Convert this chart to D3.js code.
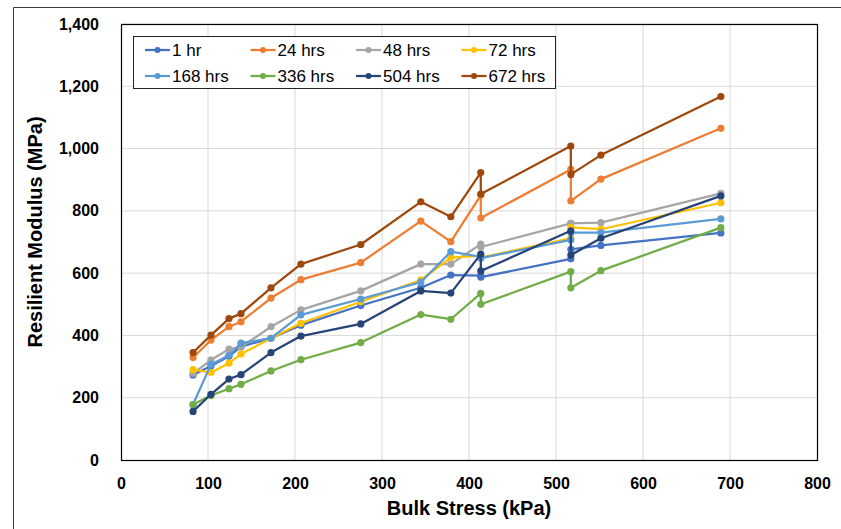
<!DOCTYPE html>
<html>
<head>
<meta charset="utf-8">
<script src="https://cdn.jsdelivr.net/npm/d3@7"></script>
<style>
  body { margin: 0; background: #fff; }
  svg { display: block; font-family: "Liberation Sans", Arial, sans-serif; }
</style>
</head>
<body>
<svg id="chart" width="841" height="529"></svg>
<script>
// ---- data ----
const bulkStress = [82.8, 103.4, 124.1, 137.9, 172.4, 206.8, 275.6, 344.6, 379.1, 413.5, 413.6, 517.0, 517.1, 551.6, 689.5];
const seriesNames = ["1 hr", "24 hrs", "48 hrs", "72 hrs", "168 hrs", "336 hrs", "504 hrs", "672 hrs"];
const hr1    = [273, 302, 333, 364, 391, 433, 496, 553, 594, 592, 587, 646, 676, 689, 729];
const hrs24  = [329, 385, 428, 444, 520, 579, 634, 767, 701, 850, 777, 933, 832, 902, 1065];
const hrs48  = [278, 321, 356, 362, 428, 482, 543, 629, 629, 693, 684, 760, 760, 762, 856];
const hrs72  = [290, 281, 311, 340, 391, 439, 508, 578, 650, 656, 650, 712, 747, 741, 826];
const hrs168 = [178, 307, 336, 375, 391, 466, 517, 571, 669, 652, 648, 707, 730, 730, 774];
const hrs336 = [178, 207, 229, 243, 286, 322, 377, 467, 452, 535, 500, 605, 553, 608, 746];
const hrs504 = [156, 211, 260, 274, 345, 398, 437, 543, 536, 661, 607, 736, 658, 712, 848];
const hrs672 = [345, 401, 454, 470, 553, 629, 692, 829, 781, 923, 854, 1008, 917, 979, 1167];
const seriesColors = ["#4472C4", "#ED7D31", "#A5A5A5", "#FFC000", "#5B9BD5", "#70AD47", "#264478", "#9E480E"];
const xTicks = [0, 100, 200, 300, 400, 500, 600, 700, 800];
const yTicks = [0, 200, 400, 600, 800, 1000, 1200, 1400];
const xTitle = "Bulk Stress (kPa)";
const yTitle = "Resilient Modulus (MPa)";

const seriesValues = [hr1, hrs24, hrs48, hrs72, hrs168, hrs336, hrs504, hrs672];
const series = seriesNames.map((name, i) => ({
  name, color: seriesColors[i],
  points: bulkStress.map((x, j) => ({ x, y: seriesValues[i][j] }))
}));

// ---- layout ----
const svg = d3.select("#chart");
const plot = { left: 121, right: 817, top: 24, bottom: 460 };
const x = d3.scaleLinear().domain([0, 800]).range([plot.left, plot.right]);
const y = d3.scaleLinear().domain([0, 1400]).range([plot.bottom, plot.top]);

svg.append("rect").attr("width", 841).attr("height", 529).attr("fill", "#fff");
// chart-area frame
svg.append("path").attr("d", "M13.5,535 V7.5 H845").attr("fill", "none").attr("stroke", "#3a3a3a").attr("stroke-width", 1);

// gridlines
svg.append("g").selectAll("line.h").data(yTicks.slice(1)).join("line")
  .attr("x1", plot.left).attr("x2", plot.right)
  .attr("y1", d => y(d)).attr("y2", d => y(d))
  .attr("stroke", "#d9d9d9").attr("stroke-width", 1);
svg.append("g").selectAll("line.v").data(xTicks.slice(1, -1)).join("line")
  .attr("y1", plot.top).attr("y2", plot.bottom)
  .attr("x1", d => x(d)).attr("x2", d => x(d))
  .attr("stroke", "#d9d9d9").attr("stroke-width", 1);

// axes labels
const xAxis = svg.append("g").attr("transform", `translate(0,${plot.bottom})`)
  .call(d3.axisBottom(x).tickValues(xTicks).tickSize(0).tickPadding(18).tickFormat(d3.format("d")));
const yAxis = svg.append("g").attr("transform", `translate(${plot.left},0)`)
  .call(d3.axisLeft(y).tickValues(yTicks).tickSize(0).tickPadding(22).tickFormat(d3.format(",")));
[xAxis, yAxis].forEach(a => {
  a.select(".domain").remove();
  a.selectAll("text").attr("font-size", 16).attr("font-weight", "bold").attr("fill", "#000")
    .attr("font-family", "Liberation Sans, Arial, sans-serif");
});

// plot border
svg.append("rect").attr("x", plot.left + 0.5).attr("y", plot.top + 0.5)
  .attr("width", plot.right - plot.left).attr("height", plot.bottom - plot.top)
  .attr("fill", "none").attr("stroke", "#000").attr("stroke-width", 1.2);

// series
const line = d3.line().x(d => x(d.x)).y(d => y(d.y));
const gS = svg.append("g");
series.forEach(s => {
  const g = gS.append("g");
  g.append("path").datum(s.points).attr("d", line)
    .attr("fill", "none").attr("stroke", s.color).attr("stroke-width", 2.25).attr("stroke-linejoin", "round");
  g.selectAll("circle").data(s.points).join("circle")
    .attr("cx", d => x(d.x)).attr("cy", d => y(d.y)).attr("r", 3.6).attr("fill", s.color);
});

// titles
svg.append("text").attr("x", (plot.left + plot.right) / 2).attr("y", 515)
  .attr("text-anchor", "middle").attr("font-size", 20).attr("font-weight", "bold").text(xTitle);
svg.append("text").attr("transform", `translate(42,${232}) rotate(-90)`)
  .attr("text-anchor", "middle").attr("font-size", 20).attr("font-weight", "bold").text(yTitle);

// legend
const leg = svg.append("g");
leg.append("rect").attr("x", 133.5).attr("y", 36.5).attr("width", 422).attr("height", 52)
  .attr("fill", "#fff").attr("stroke", "#222").attr("stroke-width", 1);
series.forEach((s, i) => {
  const col = i % 4, row = Math.floor(i / 4);
  const lx = 145 + col * 105.5, ly = 50 + row * 26;
  const g = leg.append("g");
  g.append("line").attr("x1", lx).attr("x2", lx + 25).attr("y1", ly).attr("y2", ly)
    .attr("stroke", s.color).attr("stroke-width", 2.25);
  g.append("circle").attr("cx", lx + 12.5).attr("cy", ly).attr("r", 3).attr("fill", s.color);
  g.append("text").attr("x", lx + 27).attr("y", ly).attr("dy", "0.36em")
    .attr("font-size", 17).attr("fill", "#000").text(s.name);
});
</script>
</body>
</html>
